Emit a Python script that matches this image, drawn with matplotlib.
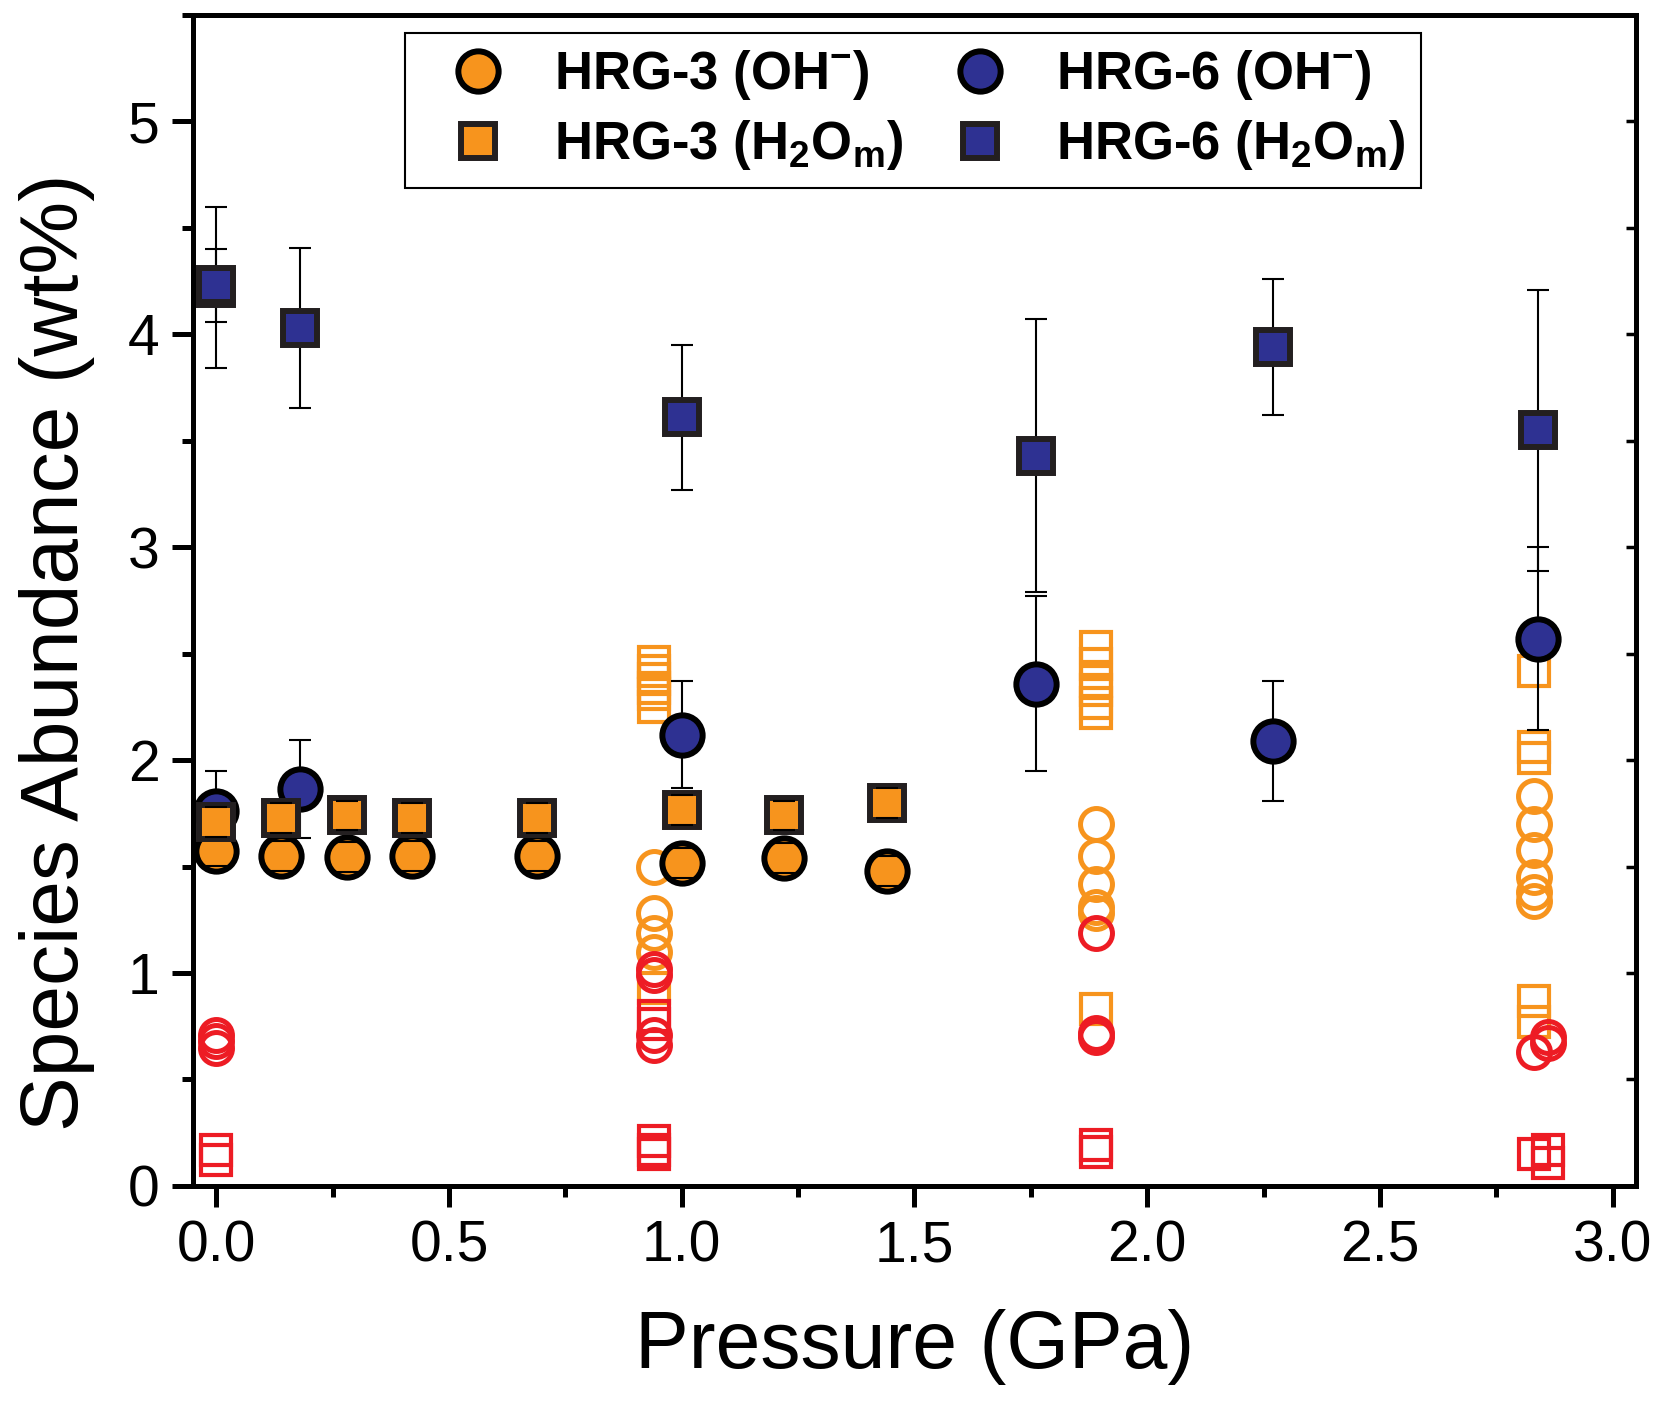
import numpy as np
import matplotlib.pyplot as plt
from matplotlib.ticker import MultipleLocator, FormatStrFormatter
from matplotlib.lines import Line2D

plt.rcParams['font.family'] = ['Liberation Sans', 'DejaVu Sans']
plt.rcParams['mathtext.fontset'] = 'custom'
plt.rcParams['mathtext.rm'] = 'Liberation Sans'
plt.rcParams['mathtext.bf'] = 'Liberation Sans:bold'

ORANGE = '#F7941D'
BLUE = '#2E3192'
RED = '#ED1C24'
EDGE = '#231F20'

# HRG-3, filled symbols
p3 = [0.0, 0.14, 0.28, 0.42, 0.69, 1.0, 1.22, 1.44]
oh3 = [1.575, 1.55, 1.545, 1.55, 1.55, 1.515, 1.54, 1.48]
oh3_err = [0.07, 0.07, 0.07, 0.07, 0.07, 0.07, 0.07, 0.07]
h2o3 = [1.71, 1.73, 1.74, 1.73, 1.73, 1.765, 1.74, 1.80]
h2o3_err = [0.07, 0.07, 0.07, 0.07, 0.07, 0.07, 0.07, 0.07]

# HRG-6, filled symbols
p6_oh = [0.0, 0.18, 1.0, 1.76, 2.27, 2.84]
oh6 = [1.76, 1.865, 2.12, 2.36, 2.09, 2.57]
oh6_err = [0.19, 0.23, 0.25, 0.41, 0.28, 0.43]
p6_h2o = [0.0, 0.0, 0.18, 1.0, 1.76, 2.27, 2.84]
h2o6 = [4.22, 4.23, 4.03, 3.61, 3.43, 3.94, 3.55]
h2o6_err = [0.38, 0.17, 0.375, 0.34, 0.64, 0.32, 0.66]

# open orange circles
oc_p = [0.94, 0.94, 0.94, 0.94,
        1.89, 1.89, 1.89, 1.89, 1.89,
        2.83, 2.83, 2.83, 2.83, 2.83, 2.83]
oc_v = [1.50, 1.28, 1.19, 1.10,
        1.70, 1.55, 1.42, 1.31, 1.28,
        1.83, 1.70, 1.58, 1.45, 1.38, 1.34]

# open orange squares
os_p = [0.94, 0.94, 0.94, 0.94, 0.94, 0.94, 0.94,
        1.89, 1.89, 1.89, 1.89, 1.89, 1.89, 1.89,
        2.83, 2.83, 2.83, 2.83, 2.83]
os_v = [2.46, 2.42, 2.38, 2.34, 2.31, 2.25, 0.93,
        2.53, 2.45, 2.37, 2.33, 2.27, 2.22, 0.83,
        2.42, 2.06, 2.01, 0.87, 0.77]

# open red circles
rc_p = [0.0, 0.0, 0.0,
        0.94, 0.94, 0.94, 0.94,
        1.89, 1.89, 1.89,
        2.83, 2.86, 2.86]
rc_v = [0.71, 0.68, 0.65,
        1.02, 0.99, 0.71, 0.66,
        1.19, 0.72, 0.70,
        0.63, 0.70, 0.67]

# open red squares
rs_p = [0.0, 0.0,
        0.94, 0.94, 0.94, 0.94, 0.94,
        1.89, 1.89,
        2.83, 2.86, 2.86]
rs_v = [0.17, 0.12,
        0.80, 0.76, 0.21, 0.17, 0.15,
        0.19, 0.16,
        0.15, 0.17, 0.11]

fig = plt.figure(figsize=(16.57, 14.01), dpi=100)
ax = fig.add_axes([0.1165, 0.1535, 0.8708, 0.8358])

open_kw = dict(ls='none', mfc='none', zorder=2)
ax.plot(os_p, os_v, 's', ms=21, mec=ORANGE, mew=3.0, **open_kw)
ax.plot(oc_p, oc_v, 'o', ms=23, mec=ORANGE, mew=3.6, **open_kw)
ax.plot(rs_p, rs_v, 's', ms=21, mec=RED, mew=3.0, **open_kw)
ax.plot(rc_p, rc_v, 'o', ms=23, mec=RED, mew=3.6, **open_kw)

bar_kw = dict(fmt='none', ecolor='black', elinewidth=1.5, capsize=8, capthick=1.5)
ax.errorbar(p6_oh, oh6, yerr=oh6_err, zorder=3, **bar_kw)
ax.errorbar(p6_h2o, h2o6, yerr=h2o6_err, zorder=3, **bar_kw)
ax.plot(p6_oh, oh6, 'o', ls='none', ms=29, mfc=BLUE, mec='black', mew=4.3, zorder=4)
ax.plot(p6_h2o, h2o6, 's', ls='none', ms=25, mfc=BLUE, mec=EDGE, mew=4.3, zorder=4)

# HRG-3: bar lines hidden behind the symbols, caps left on top
ax.plot(p3, oh3, 'o', ls='none', ms=29, mfc=ORANGE, mec='black', mew=4.3, zorder=5)
eb = ax.errorbar(p3, oh3, yerr=oh3_err, zorder=4.5, **bar_kw)
for c in eb[1]:
    c.set_zorder(6)
ax.plot(p3, h2o3, 's', ls='none', ms=25, mfc=ORANGE, mec=EDGE, mew=4.3, zorder=7)
eb = ax.errorbar(p3, h2o3, yerr=h2o3_err, zorder=6.5, **bar_kw)
for c in eb[1]:
    c.set_zorder(8)

ax.set_xlim(-0.05, 3.05)
ax.set_ylim(0, 5.5)
ax.xaxis.set_major_locator(MultipleLocator(0.5))
ax.xaxis.set_minor_locator(MultipleLocator(0.25))
ax.xaxis.set_major_formatter(FormatStrFormatter('%.1f'))
ax.yaxis.set_major_locator(MultipleLocator(1))
ax.yaxis.set_minor_locator(MultipleLocator(0.5))
ax.yaxis.set_major_formatter(FormatStrFormatter('%d'))

for sp in ax.spines.values():
    sp.set_linewidth(3.6)
ax.tick_params(which='major', direction='out', length=15, width=3.6, labelsize=41, pad=9,
               top=False, right=False)
ax.tick_params(which='minor', direction='out', length=8, width=3.6, top=False, right=False)

sec = ax.secondary_yaxis('right')
sec.yaxis.set_major_locator(MultipleLocator(0.5))
sec.tick_params(direction='in', length=7, width=2.5, labelright=False)
sec.spines['right'].set_linewidth(3.6)

ax.set_xlabel('Pressure (GPa)', fontsize=58, labelpad=26)
ax.set_ylabel('Species Abundance (wt%)', fontsize=59)
ax.yaxis.set_label_coords(-0.068, 0.456)

handles = [
    Line2D([], [], ls='none', marker='o', ms=29, mfc=ORANGE, mec='black', mew=4.3),
    Line2D([], [], ls='none', marker='s', ms=25, mfc=ORANGE, mec=EDGE, mew=4.3),
    Line2D([], [], ls='none', marker='o', ms=29, mfc=BLUE, mec='black', mew=4.3),
    Line2D([], [], ls='none', marker='s', ms=25, mfc=BLUE, mec=EDGE, mew=4.3),
]
labels = [r'HRG-3 (OH$^{\mathbf{-}}$)', r'HRG-3 (H$_{\mathbf{2}}$O$_{\mathbf{m}}$)',
          r'HRG-6 (OH$^{\mathbf{-}}$)', r'HRG-6 (H$_{\mathbf{2}}$O$_{\mathbf{m}}$)']
leg = ax.legend(handles, labels, ncol=2, loc='upper center', bbox_to_anchor=(0.499, 0.985),
                prop={'weight': 'bold', 'size': 38}, frameon=True, fancybox=False,
                edgecolor='black', framealpha=1, handletextpad=0.36, columnspacing=0.36,
                labelspacing=0.3, borderpad=0.3, handlelength=2.16, borderaxespad=0)
leg.get_frame().set_linewidth(1.5)

fig.savefig('out.png', dpi=100)
